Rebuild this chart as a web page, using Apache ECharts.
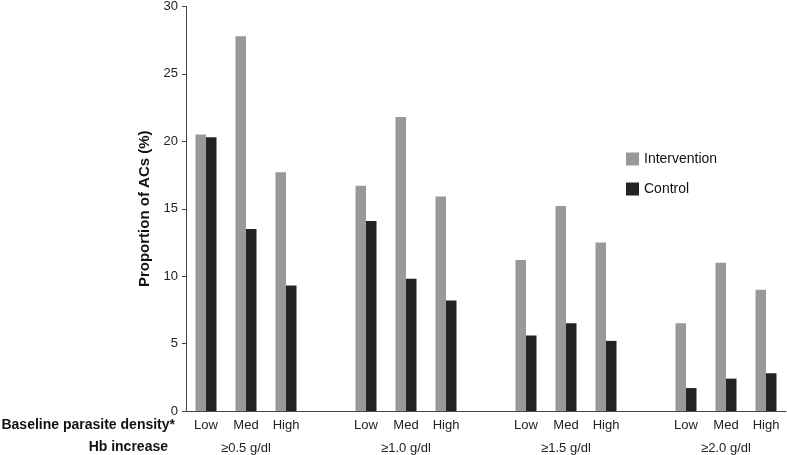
<!DOCTYPE html>
<html>
<head>
<meta charset="utf-8">
<script src="https://cdn.jsdelivr.net/npm/echarts@6/dist/echarts.min.js"></script>
<style>html,body{margin:0;padding:0;background:#fff}#c{width:787px;height:455px}</style>
</head>
<body>
<div id="c"></div>
<script>
// Categories: 4 Hb-increase groups of 3 density levels, separated by an empty slot
const densityLabels = ['Low', 'Med', 'High', '', 'Low', 'Med', 'High', '', 'Low', 'Med', 'High', '', 'Low', 'Med', 'High'];
const hbLabels = ['', '≥0.5 g/dl', '', '', '', '≥1.0 g/dl', '', '', '', '≥1.5 g/dl', '', '', '', '≥2.0 g/dl', ''];
const intervention = [20.5, 27.8, 17.7, null, 16.7, 21.8, 15.9, null, 11.2, 15.2, 12.5, null, 6.5, 11.0, 9.0];
const control = [20.3, 13.5, 9.3, null, 14.1, 9.8, 8.2, null, 5.6, 6.5, 5.2, null, 1.7, 2.4, 2.8];
const yTicks = { min: 0, max: 30, interval: 5 };

const chart = echarts.init(document.getElementById('c'), null, { renderer: 'canvas' });
const font = 'Liberation Sans, Arial, sans-serif';
chart.setOption({
  animation: false,
  textStyle: { fontFamily: font },
  grid: { left: 186, right: 1, top: 5, bottom: 43, containLabel: false },
  legend: {
    orient: 'vertical',
    left: 621,
    top: 147,
    itemWidth: 13,
    itemHeight: 13,
    itemGap: 16,
    icon: 'rect',
    textStyle: { fontSize: 14, color: '#111', fontFamily: font },
    data: ['Intervention', 'Control']
  },
  xAxis: [
    {
      type: 'category',
      data: densityLabels,
      axisLine: { lineStyle: { color: '#444', width: 1 } },
      axisTick: { show: false },
      axisLabel: { interval: 0, fontSize: 13, color: '#222', margin: 8, fontFamily: font }
    },
    {
      type: 'category',
      data: hbLabels,
      position: 'bottom',
      offset: 23,
      axisLine: { show: false },
      axisTick: { show: false },
      axisLabel: { interval: 0, fontSize: 13, color: '#222', margin: 8, fontFamily: font }
    }
  ],
  yAxis: {
    type: 'value',
    min: yTicks.min,
    max: yTicks.max,
    interval: yTicks.interval,
    name: 'Proportion of ACs (%)',
    nameLocation: 'middle',
    nameGap: 33,
    nameTextStyle: { fontSize: 15, fontWeight: 'bold', color: '#111', fontFamily: font },
    axisLine: { show: true, lineStyle: { color: '#444', width: 1 } },
    axisTick: { show: true, length: 4, lineStyle: { color: '#444' } },
    axisLabel: { fontSize: 13, color: '#222', margin: 8, fontFamily: font },
    splitLine: { show: false }
  },
  graphic: [
    { type: 'text', right: 787 - 175, top: 418, style: { text: 'Baseline parasite density*', font: 'bold 14px ' + font, fill: '#111', textAlign: 'right' } },
    { type: 'text', right: 787 - 168, top: 440, style: { text: 'Hb increase', font: 'bold 14px ' + font, fill: '#111', textAlign: 'right' } }
  ],
  series: [
    { name: 'Intervention', type: 'bar', data: intervention, barWidth: 10.5, barGap: '0%', itemStyle: { color: '#999999' } },
    { name: 'Control', type: 'bar', data: control, barWidth: 10.5, barGap: '0%', itemStyle: { color: '#232323' } }
  ]
});
</script>
</body>
</html>
